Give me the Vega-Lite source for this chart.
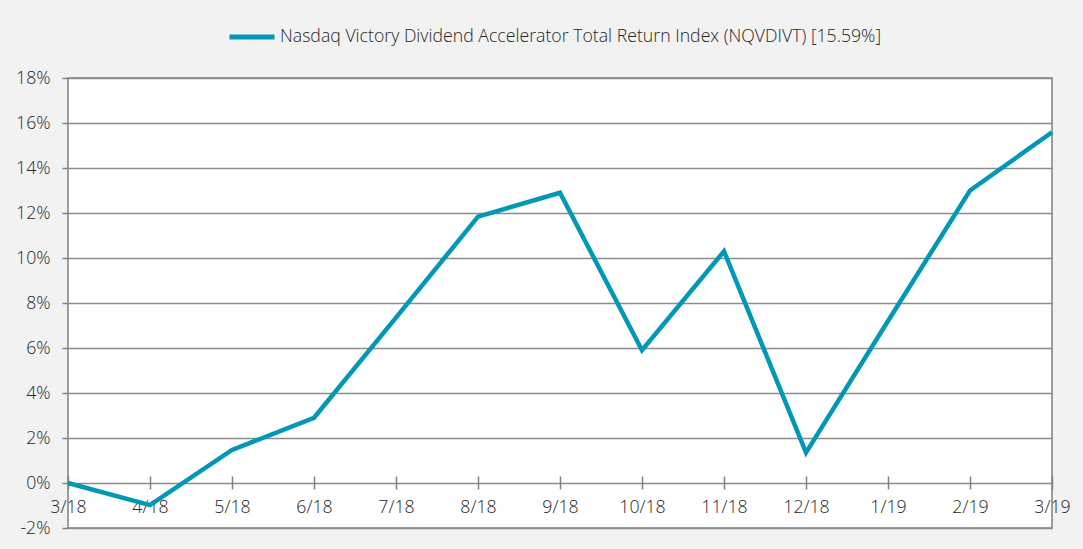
{
  "$schema": "https://vega.github.io/schema/vega-lite/v6.json",
  "width": 984,
  "height": 450,
  "autosize": {"type": "none"},
  "padding": {"left": 68, "top": 78, "right": 31, "bottom": 21},
  "background": "#f2f2f2",
  "config": {
    "view": {"fill": "white", "stroke": "#808080", "strokeWidth": 1.5},
    "font": "Open Sans"
  },
  "data": {
    "values": [
      {"month": "3/18", "value": 0, "series": "Nasdaq Victory Dividend Accelerator Total Return Index (NQVDIVT) [15.59%]"},
      {"month": "4/18", "value": -0.98, "series": "Nasdaq Victory Dividend Accelerator Total Return Index (NQVDIVT) [15.59%]"},
      {"month": "5/18", "value": 1.47, "series": "Nasdaq Victory Dividend Accelerator Total Return Index (NQVDIVT) [15.59%]"},
      {"month": "6/18", "value": 2.9, "series": "Nasdaq Victory Dividend Accelerator Total Return Index (NQVDIVT) [15.59%]"},
      {"month": "7/18", "value": 7.35, "series": "Nasdaq Victory Dividend Accelerator Total Return Index (NQVDIVT) [15.59%]"},
      {"month": "8/18", "value": 11.84, "series": "Nasdaq Victory Dividend Accelerator Total Return Index (NQVDIVT) [15.59%]"},
      {"month": "9/18", "value": 12.9, "series": "Nasdaq Victory Dividend Accelerator Total Return Index (NQVDIVT) [15.59%]"},
      {"month": "10/18", "value": 5.9, "series": "Nasdaq Victory Dividend Accelerator Total Return Index (NQVDIVT) [15.59%]"},
      {"month": "11/18", "value": 10.3, "series": "Nasdaq Victory Dividend Accelerator Total Return Index (NQVDIVT) [15.59%]"},
      {"month": "12/18", "value": 1.35, "series": "Nasdaq Victory Dividend Accelerator Total Return Index (NQVDIVT) [15.59%]"},
      {"month": "1/19", "value": 7.2, "series": "Nasdaq Victory Dividend Accelerator Total Return Index (NQVDIVT) [15.59%]"},
      {"month": "2/19", "value": 13.0, "series": "Nasdaq Victory Dividend Accelerator Total Return Index (NQVDIVT) [15.59%]"},
      {"month": "3/19", "value": 15.59, "series": "Nasdaq Victory Dividend Accelerator Total Return Index (NQVDIVT) [15.59%]"}
    ]
  },
  "mark": {"type": "line", "strokeWidth": 4.5},
  "encoding": {
    "x": {
      "field": "month",
      "type": "ordinal",
      "sort": null,
      "scale": {"type": "point", "padding": 0},
      "axis": {
        "title": null,
        "offset": -52,
        "domain": false,
        "grid": false,
        "tickSize": 13,
        "tickColor": "#808080",
        "tickWidth": 1.5,
        "labelAngle": 0,
        "labelPadding": 9,
        "labelFontSize": 17.7,
        "labelFontWeight": 300,
        "labelColor": "#262626",
        "labelOverlap": false,
        "labelBound": false,
        "labelFlush": false
      }
    },
    "y": {
      "field": "value",
      "type": "quantitative",
      "scale": {"domain": [-2, 18], "nice": false, "zero": false},
      "axis": {
        "title": null,
        "values": [-2, 0, 2, 4, 6, 8, 10, 12, 14, 16, 18],
        "labelExpr": "datum.value + '%'",
        "grid": true,
        "gridColor": "#8c8c8c",
        "gridWidth": 1.5,
        "domain": false,
        "tickSize": 6,
        "tickColor": "#808080",
        "tickWidth": 1.5,
        "labelPadding": 12,
        "labelFontSize": 17.7,
        "labelFontWeight": 300,
        "labelColor": "#262626"
      }
    },
    "color": {
      "field": "series",
      "type": "nominal",
      "scale": {"range": ["#0098b5"]},
      "legend": {
        "title": null,
        "orient": "none",
        "legendX": 159,
        "legendY": -66,
        "padding": 0,
        "symbolType": "stroke",
        "symbolSize": 2025,
        "symbolStrokeWidth": 5,
        "labelFontSize": 17.7,
        "labelFontWeight": 300,
        "labelColor": "#262626",
        "labelOffset": 3,
        "labelLimit": 1000
      }
    }
  }
}
